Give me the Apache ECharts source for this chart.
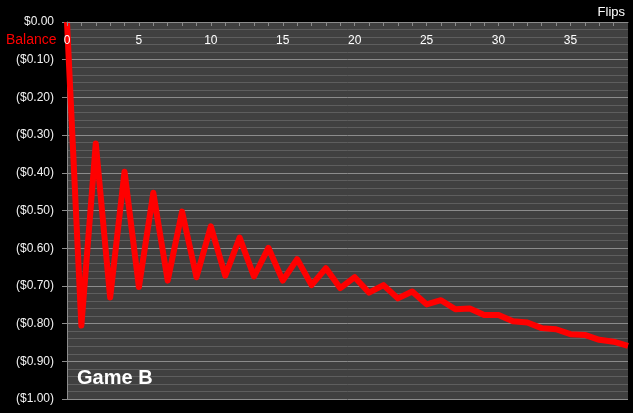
<!DOCTYPE html>
<html>
<head>
<meta charset="utf-8">
<script src="https://cdn.jsdelivr.net/npm/echarts@6/dist/echarts.min.js"></script>
<style>
html,body{margin:0;padding:0;background:#000;}
#c{width:633px;height:413px;}
</style>
</head>
<body>
<div id="c"></div>
<script>
var flips = [0,1,2,3,4,5,6,7,8,9,10,11,12,13,14,15,16,17,18,19,20,21,22,23,24,25,26,27,28,29,30,31,32,33,34,35,36,37,38,39];
var balance = [0,-0.805,-0.322,-0.731,-0.397,-0.703,-0.453,-0.686,-0.503,-0.677,
  -0.542,-0.673,-0.572,-0.675,-0.599,-0.686,-0.629,-0.698,-0.653,-0.706,
  -0.677,-0.718,-0.698,-0.733,-0.715,-0.749,-0.738,-0.762,-0.760,-0.777,
  -0.777,-0.794,-0.797,-0.812,-0.815,-0.828,-0.830,-0.843,-0.848,-0.859];
var xLabelEvery = 5;
var yMin = -1, yMax = 0, yStep = 0.1;

var chart = echarts.init(document.getElementById('c'));
var font = '"Liberation Sans", Arial, sans-serif';
chart.setOption({
  backgroundColor: '#000000',
  animation: false,
  grid: {left: 67, top: 22, right: 5, bottom: 14, show: true, backgroundColor: '#404040', borderWidth: 0},
  graphic: [
    {type: 'text', z: 100, left: 6, top: 33, style: {text: 'Balance', fill: '#ff0000', font: '14px ' + font}},
    {type: 'text', z: 100, right: 8, top: 6, style: {text: 'Flips', fill: '#ffffff', font: '13px ' + font}},
    {type: 'text', z: 100, left: 77, top: 368, style: {text: 'Game B', fill: '#ffffff', font: 'bold 20px ' + font}}
  ],
  xAxis: {
    type: 'value', position: 'top', min: 0, max: 39, interval: 1, z: 10,
    axisLine: {show: true, onZero: false, lineStyle: {color: '#8c8c8c', width: 1}},
    axisTick: {show: true, inside: true, length: 4, lineStyle: {color: '#8c8c8c'}},
    axisLabel: {inside: true, margin: 13, color: '#ffffff', fontFamily: font, fontSize: 12,
      showMaxLabel: false,
      formatter: function(v){ return (Math.round(v) % xLabelEvery === 0) ? String(Math.round(v)) : ''; }},
    splitLine: {show: false}
  },
  yAxis: {
    type: 'value', min: yMin, max: yMax, interval: yStep, z: 0,
    axisLine: {show: true, lineStyle: {color: '#8c8c8c', width: 1}},
    axisTick: {show: true, length: 5, lineStyle: {color: '#8c8c8c'}},
    axisLabel: {color: '#f2f2f2', fontFamily: font, fontSize: 12, margin: 13,
      formatter: function(v){
        var a = Math.abs(v);
        if (a < 1e-9) return '$0.00';
        return '($' + a.toFixed(2) + ')';
      }},
    splitLine: {show: true, lineStyle: {color: '#8c8c8c', width: 1}},
    minorSplitLine: {show: true, lineStyle: {color: '#5e5e5e', width: 1}},
    minorTick: {show: false, splitNumber: 5}
  },
  series: [{
    type: 'line', z: 2,
    data: flips.map(function(f, i){ return [f, balance[i]]; }),
    showSymbol: false,
    symbol: 'none',
    lineStyle: {color: '#ff0000', width: 6, join: 'round'},
    clip: true
  }]
});
</script>
</body>
</html>
